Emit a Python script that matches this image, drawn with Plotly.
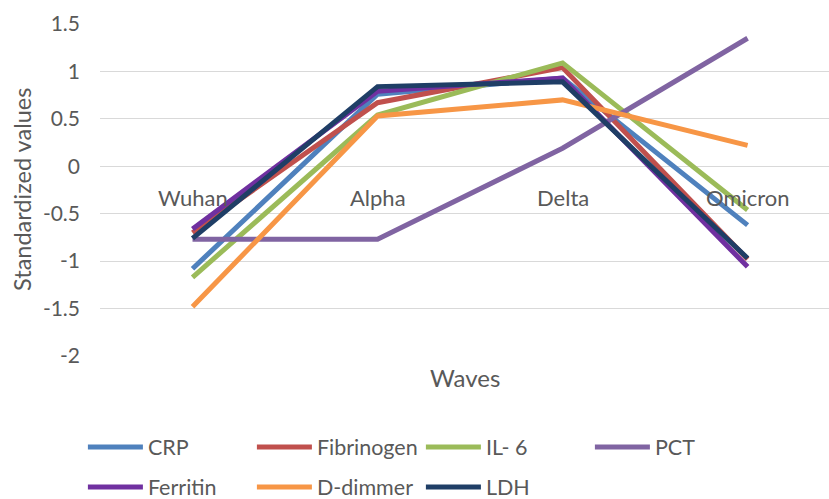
import plotly.graph_objects as go

waves = ["Wuhan", "Alpha", "Delta", "Omicron"]
series_names = ["CRP", "Fibrinogen", "IL- 6", "PCT", "Ferritin", "D-dimmer", "LDH"]
crp = [-1.08, 0.76, 0.93, -0.62]
fibrinogen = [-0.70, 0.67, 1.04, -0.98]
il6 = [-1.17, 0.54, 1.09, -0.46]
pct = [-0.77, -0.77, 0.19, 1.35]
ferritin = [-0.66, 0.79, 0.93, -1.06]
d_dimmer = [-1.48, 0.53, 0.70, 0.22]
ldh = [-0.76, 0.84, 0.89, -0.97]
y_ticks = [1.5, 1, 0.5, 0, -0.5, -1, -1.5, -2]

values = [crp, fibrinogen, il6, pct, ferritin, d_dimmer, ldh]
colors = ["#4F81BD", "#C0504D", "#9BBB59", "#8064A2", "#7030A0", "#F79646", "#1F3E66"]
legend_ids = ["legend", "legend", "legend", "legend", "legend2", "legend2", "legend2"]

TXT = "#595959"
FONT = "Lato, 'Open Sans', sans-serif"
xpos = list(range(len(waves)))

fig = go.Figure()
for name, vals, col, lg in zip(series_names, values, colors, legend_ids):
    fig.add_trace(go.Scatter(
        x=xpos, y=vals, name=name, mode="lines",
        line=dict(color=col, width=5), legend=lg,
    ))

# category labels sit on the zero line
for i, w in enumerate(waves):
    fig.add_annotation(x=i, y=0, xref="x", yref="y", text=w, showarrow=False,
                       yanchor="middle", yshift=-31, font=dict(size=22, color=TXT))

fig.add_annotation(x=0.5, y=0, xref="paper", yref="paper", text="Waves", showarrow=False,
                   yanchor="middle", yshift=-21, font=dict(size=24, color=TXT))
fig.add_annotation(x=0, y=0.5, xref="paper", yref="paper", text="Standardized values",
                   showarrow=False, textangle=-90, xanchor="center", yanchor="middle",
                   xshift=-78, font=dict(size=23.5, color=TXT))

legend_common = dict(orientation="h", xref="container", yref="container",
                     xanchor="left", yanchor="middle", entrywidth=99, entrywidthmode="pixels",
                     itemwidth=55,
                     font=dict(size=21.5, color=TXT, family=FONT), bgcolor="rgba(0,0,0,0)")

fig.update_layout(
    width=829, height=499,
    margin=dict(l=100, r=0, t=24, b=143),
    paper_bgcolor="white", plot_bgcolor="white",
    font=dict(family=FONT, color=TXT, size=21),
    showlegend=True,
    legend=dict(x=0.1, y=0.104, **legend_common),
    legend2=dict(x=0.1, y=0.024, **legend_common),
    xaxis=dict(range=[-0.5, 3.44], showticklabels=False, showgrid=False, zeroline=False,
               showline=False, ticks=""),
    yaxis=dict(range=[-2, 1.5], tickvals=y_ticks, ticktext=[f"{v:g}" for v in y_ticks],
               showgrid=True, gridcolor="#D9D9D9", gridwidth=1, zeroline=False,
               showline=False, ticks="", ticklabelstandoff=19,
               tickfont=dict(size=21, color=TXT)),
)

fig.write_html("out.html")
